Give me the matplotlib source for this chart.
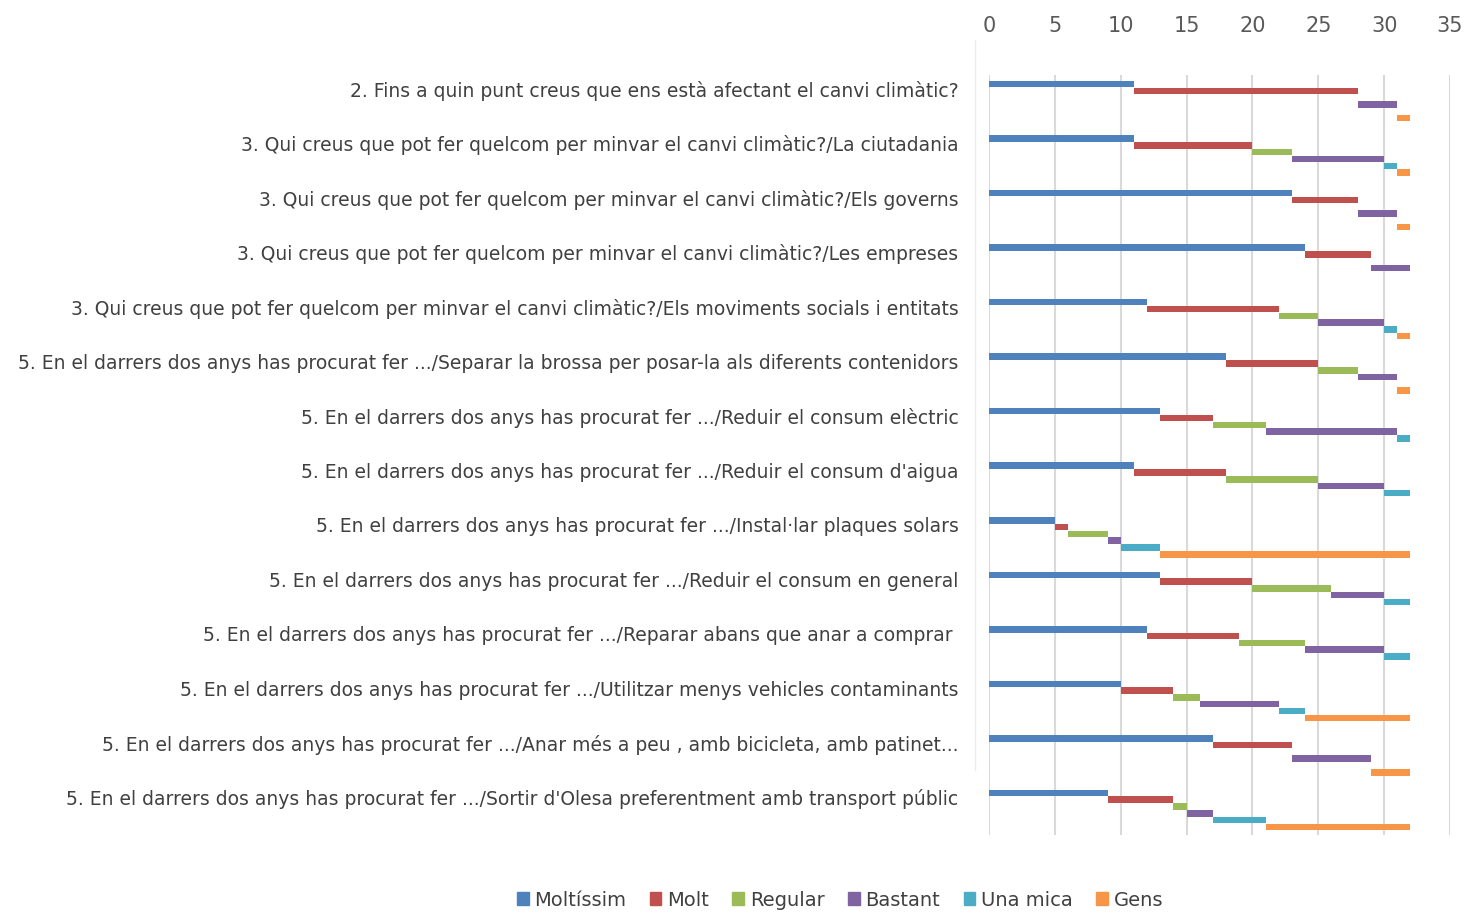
import numpy as np
import matplotlib
matplotlib.use("Agg")
from matplotlib import pyplot as plt
from matplotlib.lines import Line2D

plt.rcParams['font.family'] = ['DejaVu Sans']

# question labels, top to bottom
questions = [
    "2. Fins a quin punt creus que ens està afectant el canvi climàtic?",
    "3. Qui creus que pot fer quelcom per minvar el canvi climàtic?/La ciutadania",
    "3. Qui creus que pot fer quelcom per minvar el canvi climàtic?/Els governs",
    "3. Qui creus que pot fer quelcom per minvar el canvi climàtic?/Les empreses",
    "3. Qui creus que pot fer quelcom per minvar el canvi climàtic?/Els moviments socials i entitats",
    "5. En el darrers dos anys has procurat fer .../Separar la brossa per posar-la als diferents contenidors",
    "5. En el darrers dos anys has procurat fer .../Reduir el consum elèctric",
    "5. En el darrers dos anys has procurat fer .../Reduir el consum d'aigua",
    "5. En el darrers dos anys has procurat fer .../Instal·lar plaques solars",
    "5. En el darrers dos anys has procurat fer .../Reduir el consum en general",
    "5. En el darrers dos anys has procurat fer .../Reparar abans que anar a comprar ",
    "5. En el darrers dos anys has procurat fer .../Utilitzar menys vehicles contaminants",
    "5. En el darrers dos anys has procurat fer .../Anar més a peu , amb bicicleta, amb patinet...",
    "5. En el darrers dos anys has procurat fer .../Sortir d'Olesa preferentment amb transport públic",
]

series_names = ["Moltíssim", "Molt", "Regular", "Bastant", "Una mica", "Gens"]
moltissim = [11, 11, 23, 24, 12, 18, 13, 11, 5, 13, 12, 10, 17, 9]
molt      = [17, 9, 5, 5, 10, 7, 4, 7, 1, 7, 7, 4, 6, 5]
regular   = [0, 3, 0, 0, 3, 3, 4, 7, 3, 6, 5, 2, 0, 1]
bastant   = [3, 7, 3, 3, 5, 3, 10, 5, 1, 4, 6, 6, 6, 2]
una_mica  = [0, 1, 0, 0, 1, 0, 1, 2, 3, 2, 2, 2, 0, 4]
gens      = [1, 1, 1, 0, 1, 1, 0, 0, 19, 0, 0, 8, 3, 11]

colors = ["#4F81BD", "#C0504D", "#9BBB59", "#8064A2", "#4BACC6", "#F79646"]

fig = plt.figure(figsize=(14.82, 9.16), dpi=100)
ax = fig.add_axes([989/1482, 1-835/916, (1450-989)/1482, (835-75)/916])

data = np.array([moltissim, molt, regular, bastant, una_mica, gens], dtype=float)
ypos = np.arange(len(questions))
left = np.zeros(len(questions))
for j in range(len(series_names)):
    #each series sits a little lower than the one before it
    offs = -0.083 + j*0.1247
    ax.barh(ypos + offs, data[j], left=left, height=0.12, color=colors[j],
            linewidth=0, label=series_names[j], zorder=3)
    left = left + data[j]

ax.set_xlim(0, 35)
ax.set_ylim(13.69, -0.25)
ax.set_xticks(np.arange(0, 36, 5))
ax.xaxis.tick_top()
ax.set_yticks(ypos)
ax.set_yticklabels(questions, fontsize=13.5, color="#404040")
ax.tick_params(axis='x', labelsize=15, colors="#595959", length=0, pad=28)
ax.tick_params(axis='y', length=0, pad=22)
ax.grid(axis='x', color="#d9d9d9", linewidth=1.5, zorder=0)
for s in ax.spines.values():
    s.set_visible(False)

# faint plot area border on the left
fig.add_artist(Line2D([975/1482, 975/1482], [1-40/916, 1-770/916],
                      color="#ececec", linewidth=1))

handles = [plt.Rectangle((0, 0), 1, 1, color=c) for c in colors]
fig.legend(handles, series_names, loc='center', bbox_to_anchor=(840/1482, 1-900/916),
           ncol=6, frameon=False, fontsize=14, handlelength=0.6, handleheight=0.6,
           handletextpad=0.3, columnspacing=1.2, labelcolor="#404040")

fig.savefig("out.png", dpi=100, facecolor="white")
